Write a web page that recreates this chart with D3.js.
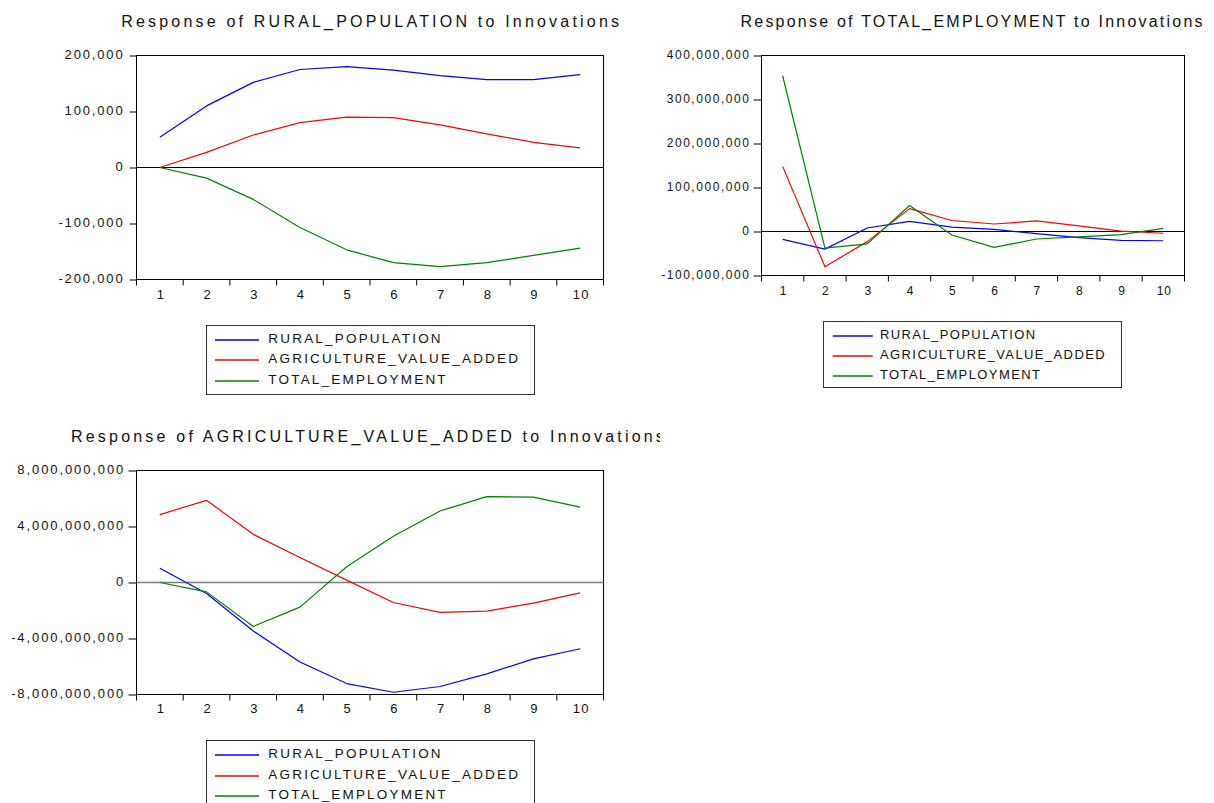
<!DOCTYPE html>
<html>
<head>
<meta charset="utf-8">
<script src="https://cdn.jsdelivr.net/npm/d3@7"></script>
<style>
  html, body { margin: 0; padding: 0; background: #fff; }
  svg { display: block; font-family: Arial, "Liberation Sans", sans-serif; }
</style>
</head>
<body>
<svg id="chart" width="1214" height="803"></svg>
<script>
// Forecast horizons
const periods = [1, 2, 3, 4, 5, 6, 7, 8, 9, 10];

// Shock variables (legend order)
const shockNames = ["RURAL_POPULATION", "AGRICULTURE_VALUE_ADDED", "TOTAL_EMPLOYMENT"];
const shockColors = ["#0000ff", "#ff0000", "#008000"];

// Response of RURAL_POPULATION
const ruralToRural = [54000, 110000, 152000, 175000, 180000, 174000, 164000, 157000, 157000, 166000];
const ruralToAgri  = [0, 27000, 58000, 80000, 90000, 89000, 76000, 60000, 45000, 35000];
const ruralToEmp   = [0, -19000, -57000, -107000, -147000, -170000, -177000, -170000, -157000, -144000];
const ruralTicks   = [-200000, -100000, 0, 100000, 200000];

// Response of TOTAL_EMPLOYMENT
const empToRural = [-18e6, -40e6, 8e6, 23e6, 10e6, 5e6, -5e6, -14e6, -20e6, -21e6];
const empToAgri  = [148e6, -80e6, -23e6, 52e6, 25e6, 17e6, 24e6, 13e6, 1e6, -4e6];
const empToEmp   = [354e6, -38e6, -28e6, 59e6, -8e6, -36e6, -17e6, -12e6, -7e6, 7e6];
const empTicks   = [-100e6, 0, 100e6, 200e6, 300e6, 400e6];

// Response of AGRICULTURE_VALUE_ADDED
const agriToRural = [1.02e9, -0.78e9, -3.47e9, -5.68e9, -7.22e9, -7.84e9, -7.43e9, -6.53e9, -5.46e9, -4.73e9];
const agriToAgri  = [4.85e9, 5.87e9, 3.44e9, 1.78e9, 0.17e9, -1.43e9, -2.14e9, -2.04e9, -1.47e9, -0.74e9];
const agriToEmp   = [0, -0.67e9, -3.14e9, -1.76e9, 1.12e9, 3.30e9, 5.11e9, 6.13e9, 6.10e9, 5.39e9];
const agriTicks   = [-8e9, -4e9, 0, 4e9, 8e9];

const fmt = d3.formatLocale({ decimal: ".", thousands: ",", grouping: [3], currency: ["$", ""], minus: "-" }).format(",");

const svg = d3.select("#chart");
const ink = "#111";

// Layout of each panel
const panels = [
  {
    title: "Response of RURAL_POPULATION to Innovations",
    series: [ruralToRural, ruralToAgri, ruralToEmp], ticks: ruralTicks,
    frame: { x0: 136.5, x1: 603.5, y0: 55.5, y1: 279.5 },
    titleX: 121.2, titleY: 26.5, titleSize: 16, titleLs: 3.2,
    tickSize: 7, tickPad: 5, yFont: 13, yLs: 1.85,
    xFont: 13, xLs: 1.1, xBase: 299.3, zeroColor: "#000",
    legend: { x: 206.5, y: 325.5, w: 328, h: 69, lx0: 215, lx1: 259, tx: 268.3, rows: [340, 360, 381], font: 13.5, ls: 2.2 }
  },
  {
    title: "Response of TOTAL_EMPLOYMENT to Innovations",
    series: [empToRural, empToAgri, empToEmp], ticks: empTicks,
    frame: { x0: 761.5, x1: 1184.5, y0: 55.5, y1: 275.5 },
    titleX: 740.5, titleY: 26.5, titleSize: 16, titleLs: 2.22,
    tickSize: 8, tickPad: 3, yFont: 12, yLs: 1.55,
    xFont: 12, xLs: 1.0, xBase: 295, zeroColor: "#000",
    legend: { x: 823.5, y: 321.5, w: 298, h: 66, lx0: 832.7, lx1: 872.7, tx: 880, rows: [336, 356, 376], font: 13, ls: 1.4 }
  },
  {
    title: "Response of AGRICULTURE_VALUE_ADDED to Innovations",
    series: [agriToRural, agriToAgri, agriToEmp], ticks: agriTicks,
    frame: { x0: 136.5, x1: 603.5, y0: 470.5, y1: 694.5 },
    titleX: 71, titleY: 441.5, titleSize: 16, titleLs: 3.2, titleClip: 660,
    tickSize: 8, tickPad: 3.3, yFont: 13, yLs: 1.9,
    xFont: 13, xLs: 1.1, xBase: 713, zeroColor: "#7a7a7a",
    legend: { x: 206.5, y: 740.5, w: 328, h: 80, lx0: 215, lx1: 259, tx: 268.3, rows: [755, 776, 796], font: 13.5, ls: 2.2 }
  }
];

panels.forEach((p, i) => {
  const g = svg.append("g");
  const f = p.frame;

  const x = d3.scaleBand().domain(periods).range([f.x0, f.x1]).padding(0);
  const y = d3.scaleLinear().domain(d3.extent(p.ticks)).range([f.y1, f.y0]);
  const cx = d => x(d) + x.bandwidth() / 2;

  // Title (optionally clipped at the panel's right edge)
  let titleG = g;
  if (p.titleClip) {
    const id = "titleClip" + i;
    svg.append("defs").append("clipPath").attr("id", id)
      .append("rect").attr("x", 0).attr("y", p.titleY - 30).attr("width", p.titleClip).attr("height", 40);
    titleG = g.append("g").attr("clip-path", `url(#${id})`);
  }
  titleG.append("text")
    .attr("x", p.titleX).attr("y", p.titleY)
    .attr("font-size", p.titleSize).attr("letter-spacing", p.titleLs)
    .attr("fill", ink)
    .text(p.title);

  // Plot frame
  g.append("rect")
    .attr("x", f.x0).attr("y", f.y0)
    .attr("width", f.x1 - f.x0).attr("height", f.y1 - f.y0)
    .attr("fill", "#fff").attr("stroke", "#000").attr("stroke-width", 1);

  // Zero reference line
  g.append("line")
    .attr("x1", f.x0).attr("x2", f.x1)
    .attr("y1", y(0)).attr("y2", y(0))
    .attr("stroke", p.zeroColor).attr("stroke-width", i === 2 ? 1.4 : 1);

  // Y axis
  g.append("g")
    .attr("transform", `translate(${f.x0},0)`)
    .call(d3.axisLeft(y).tickValues(p.ticks).tickSize(p.tickSize).tickPadding(p.tickPad).tickSizeOuter(0).tickFormat(fmt))
    .call(a => a.select(".domain").remove())
    .call(a => a.selectAll(".tick line").attr("stroke", "#000"))
    .call(a => a.selectAll(".tick text")
      .attr("dy", 2.5).attr("fill", ink)
      .attr("font-size", p.yFont).attr("letter-spacing", p.yLs))
    .attr("font-family", null).attr("font-size", null);

  // X axis labels at band centres
  g.append("g")
    .attr("transform", `translate(0,${f.y1})`)
    .call(d3.axisBottom(d3.scalePoint().domain(periods).range([cx(periods[0]), cx(periods[periods.length - 1])])).tickSize(0).tickSizeOuter(0))
    .call(a => a.select(".domain").remove())
    .call(a => a.selectAll(".tick text")
      .attr("y", p.xBase - f.y1).attr("dy", 0).attr("fill", ink)
      .attr("font-size", p.xFont).attr("letter-spacing", p.xLs)
      .attr("dx", p.xLs / 2))
    .attr("font-family", null).attr("font-size", null);

  // X ticks at band boundaries
  const bounds = periods.map(d => x(d)).concat([x.range()[1]]);
  g.append("g").selectAll("line").data(bounds).join("line")
    .attr("x1", d => d).attr("x2", d => d)
    .attr("y1", f.y1).attr("y2", f.y1 + 6)
    .attr("stroke", "#000");

  // Response lines
  const line = d3.line().x((d, k) => cx(periods[k])).y(d => y(d));
  p.series.forEach((s, k) => {
    g.append("path")
      .datum(s)
      .attr("d", line)
      .attr("fill", "none")
      .attr("stroke", shockColors[k])
      .attr("stroke-width", 1.2)
      .attr("stroke-linejoin", "round");
  });

  // Legend
  const L = p.legend;
  const lg = g.append("g");
  lg.append("rect")
    .attr("x", L.x).attr("y", L.y).attr("width", L.w).attr("height", L.h)
    .attr("fill", "#fff").attr("stroke", "#333").attr("stroke-width", 1);
  shockNames.forEach((name, k) => {
    lg.append("line")
      .attr("x1", L.lx0).attr("x2", L.lx1)
      .attr("y1", L.rows[k]).attr("y2", L.rows[k])
      .attr("stroke", shockColors[k]).attr("stroke-width", 1.4);
    lg.append("text")
      .attr("x", L.tx).attr("y", L.rows[k] + 2.5)
      .attr("font-size", L.font).attr("letter-spacing", L.ls)
      .attr("fill", ink)
      .text(name);
  });
});
</script>
</body>
</html>
